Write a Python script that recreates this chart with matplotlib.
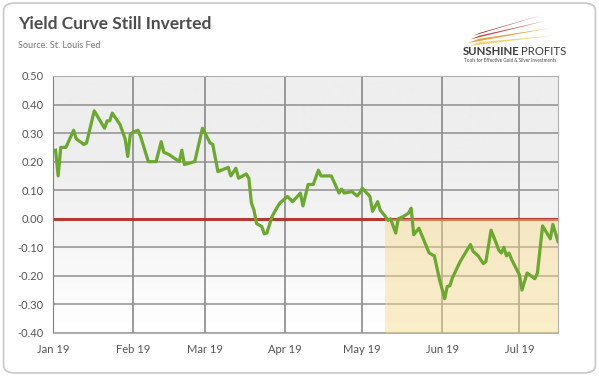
import numpy as np
import pandas as pd
import matplotlib
matplotlib.use("Agg")
import matplotlib.pyplot as plt
from matplotlib.patches import FancyBboxPatch, Polygon

# spread (10y - 3m)
dates = ["2019-01-02", "2019-01-03", "2019-01-04", "2019-01-06", "2019-01-09", "2019-01-10",
         "2019-01-13", "2019-01-14", "2019-01-17", "2019-01-21", "2019-01-22", "2019-01-23",
         "2019-01-24", "2019-01-27", "2019-01-29", "2019-01-30", "2019-01-31", "2019-02-01",
         "2019-02-03", "2019-02-04", "2019-02-07", "2019-02-10", "2019-02-12", "2019-02-13",
         "2019-02-15", "2019-02-19", "2019-02-20", "2019-02-21", "2019-02-25", "2019-02-28",
         "2019-03-03", "2019-03-04", "2019-03-06", "2019-03-10", "2019-03-11", "2019-03-13",
         "2019-03-14", "2019-03-17", "2019-03-18", "2019-03-19", "2019-03-20", "2019-03-21",
         "2019-03-23", "2019-03-24", "2019-03-25", "2019-03-27", "2019-03-29", "2019-03-30",
         "2019-04-02", "2019-04-04", "2019-04-07", "2019-04-08", "2019-04-10", "2019-04-12",
         "2019-04-14", "2019-04-15", "2019-04-19", "2019-04-22", "2019-04-23", "2019-04-24",
         "2019-04-27", "2019-04-29", "2019-04-30", "2019-05-01", "2019-05-04", "2019-05-05",
         "2019-05-07", "2019-05-08", "2019-05-10", "2019-05-11", "2019-05-12", "2019-05-14",
         "2019-05-15", "2019-05-17", "2019-05-19", "2019-05-20", "2019-05-21", "2019-05-23",
         "2019-05-27", "2019-05-29", "2019-05-31", "2019-06-02", "2019-06-03", "2019-06-04",
         "2019-06-05", "2019-06-08", "2019-06-12", "2019-06-13", "2019-06-15", "2019-06-17",
         "2019-06-18", "2019-06-20", "2019-06-22", "2019-06-23", "2019-06-24", "2019-06-25",
         "2019-06-26", "2019-06-27", "2019-06-28", "2019-07-01", "2019-07-02", "2019-07-04",
         "2019-07-07", "2019-07-08", "2019-07-10", "2019-07-13", "2019-07-14", "2019-07-16"]
spread = [0.24, 0.15, 0.25, 0.25, 0.31, 0.28,
          0.26, 0.265, 0.378, 0.317, 0.343, 0.343,
          0.37, 0.33, 0.28, 0.218, 0.296, 0.303,
          0.31, 0.288, 0.20, 0.20, 0.27, 0.233,
          0.225, 0.20, 0.24, 0.19, 0.20, 0.317,
          0.265, 0.26, 0.165, 0.18, 0.15, 0.177,
          0.142, 0.157, 0.142, 0.055, 0.03, -0.017,
          -0.027, -0.053, -0.05, 0.008, 0.04, 0.055,
          0.078, 0.06, 0.09, 0.045, 0.12, 0.12,
          0.17, 0.15, 0.15, 0.09, 0.104, 0.09,
          0.095, 0.08, 0.09, 0.107, 0.078, 0.026,
          0.06, 0.03, 0.008, -0.006, 0.0, -0.05,
          0.0, 0.008, 0.02, 0.037, -0.056, -0.033,
          -0.12, -0.13, -0.213, -0.28, -0.237, -0.235,
          -0.207, -0.15, -0.09, -0.114, -0.13, -0.157,
          -0.15, -0.04, -0.085, -0.11, -0.12, -0.10,
          -0.13, -0.12, -0.143, -0.196, -0.25, -0.19,
          -0.21, -0.19, -0.025, -0.07, -0.02, -0.08]

month_ticks = ["2019-01-01", "2019-02-01", "2019-03-01", "2019-04-01",
               "2019-05-01", "2019-06-01", "2019-07-01"]
month_labels = ["Jan 19", "Feb 19", "Mar 19", "Apr 19", "May 19", "Jun 19", "Jul 19"]
y_ticks = [0.5, 0.4, 0.3, 0.2, 0.1, 0.0, -0.1, -0.2, -0.3, -0.4]
inverted_from = "2019-05-10"

x = pd.to_datetime(dates)
ticks = pd.to_datetime(month_ticks)
x_left = pd.Timestamp("2019-01-01")
x_right = pd.Timestamp("2019-07-16")

plt.rcParams['font.family'] = ['Lato', 'DejaVu Sans']

fig = plt.figure(figsize=(5.99, 3.76), dpi=100)
fig.patch.set_facecolor("white")

# card frame
card = FancyBboxPatch((0.006, 0.008), 0.988, 0.984, boxstyle="round,pad=0,rounding_size=0.02",
                      transform=fig.transFigure, facecolor="white", edgecolor="#c8c8c8",
                      linewidth=1.2, zorder=-5)
fig.patches.append(card)

ax = fig.add_axes([0.0885, 0.1144, 0.8431, 0.6835])
ax.set_facecolor("none")

# light grey gradient in the plot area
grad = np.linspace(0, 1, 256).reshape(-1, 1)
grad = np.clip(grad * 1.5, 0, 1)
ax.imshow(grad, extent=[0, 1, 0, 1], transform=ax.transAxes, aspect="auto",
          cmap=matplotlib.colors.LinearSegmentedColormap.from_list("g", ["#ffffff", "#eeeeee"]),
          origin="lower", zorder=0)

for t in ticks[1:]:
    ax.axvline(t, color="#808080", lw=1.1, zorder=1)
for v in y_ticks:
    ax.axhline(v, color="#8f8f8f", lw=1.1, zorder=1)

ax.axhline(0, color="#b23a33", lw=2.2, zorder=2)
ax.fill_between([pd.Timestamp(inverted_from), x_right], -0.4, 0,
                color="#f7d98a", alpha=0.45, lw=0, zorder=3)
ax.plot(x, spread, color="#6aa82e", lw=2.3, zorder=4, solid_joinstyle="round")

ax.set_xlim(x_left, x_right)
ax.set_ylim(-0.4, 0.5)
ax.set_xticks(ticks)
ax.set_xticklabels(month_labels)
ax.set_yticks(y_ticks)
ax.set_yticklabels(["%.2f" % v for v in y_ticks])
ax.tick_params(length=0, labelsize=8, labelcolor="#555555")
ax.tick_params(axis="x", pad=8)
ax.tick_params(axis="y", pad=7)
for s in ax.spines.values():
    s.set_color("#b0b0b0")
    s.set_linewidth(0.8)
ax.spines["left"].set_color("#808080")

fig.text(0.030, 0.935, "Yield Curve Still Inverted", fontsize=12.5, fontweight="bold",
         color="#4d4d4d", va="center")
fig.text(0.030, 0.880, "Source: St. Louis Fed", fontsize=6.5, color="#777777", va="center")

# logo
swoosh = [([(0.79, 0.905), (0.905, 0.96), (0.80, 0.912)], "#9e1b1b"),
          ([(0.785, 0.895), (0.912, 0.945), (0.80, 0.905)], "#c9463a"),
          ([(0.78, 0.885), (0.918, 0.925), (0.80, 0.897)], "#e2a44a"),
          ([(0.785, 0.878), (0.922, 0.905), (0.80, 0.888)], "#f1d27a")]
for pts, c in swoosh:
    fig.patches.append(Polygon(pts, closed=True, transform=fig.transFigure,
                               facecolor=c, edgecolor="none", zorder=2))
fig.text(0.772, 0.862, "SUNSHINE", fontsize=8.2, fontweight="bold", color="#3a3a3a", va="center")
fig.text(0.870, 0.862, "PROFITS", fontsize=8.2, color="#3a3a3a", va="center")
fig.text(0.774, 0.838, "Tools for Effective Gold & Silver Investments", fontsize=3.3,
         color="#444444", va="center")

fig.savefig("out.png", dpi=100)
